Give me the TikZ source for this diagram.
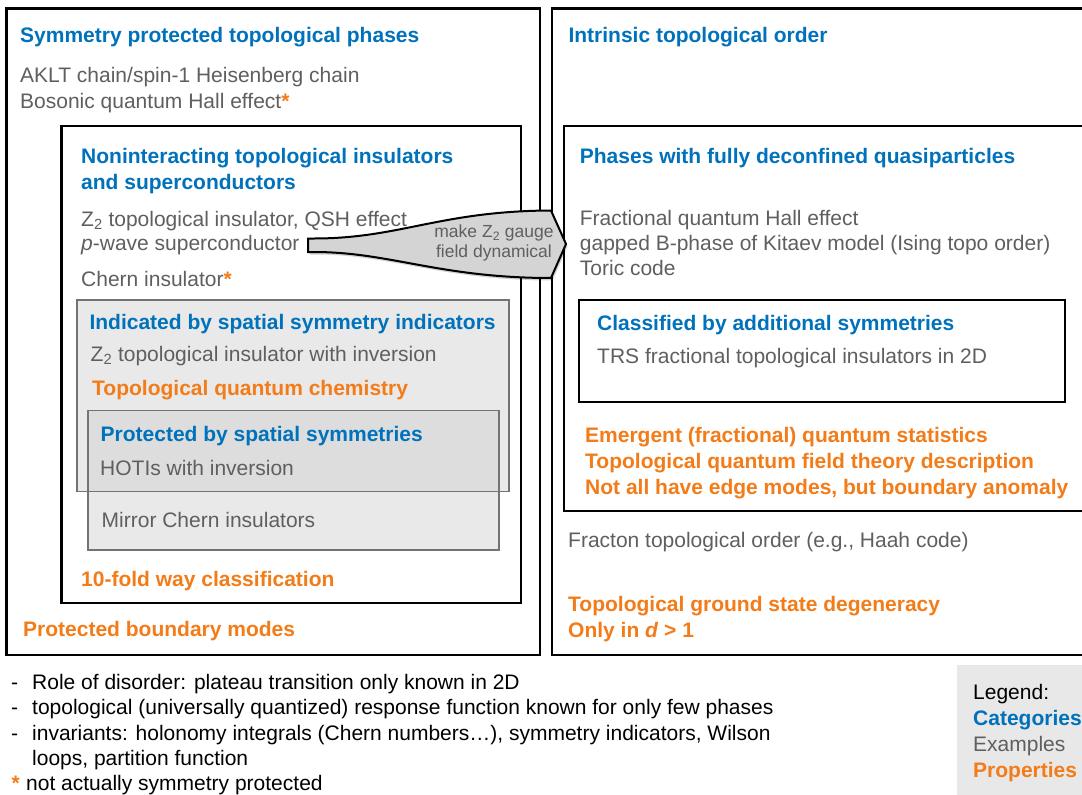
\documentclass[tikz,border=0pt]{standalone}
\usepackage{fontspec}
\setmainfont{Liberation Sans}
\definecolor{cblue}{RGB}{0,114,188}
\definecolor{corange}{RGB}{243,124,24}
\definecolor{cgray}{RGB}{95,95,95}
\definecolor{boxfill}{RGB}{233,233,233}
\definecolor{overfill}{RGB}{221,221,221}
\definecolor{legfill}{RGB}{232,232,232}
\definecolor{arrowfill}{RGB}{212,212,212}
\newcommand{\orast}{{\color{corange}\bfseries*}}
\tikzset{
  cat/.style={anchor=base west, inner sep=0pt, text=cblue, font=\fontsize{21}{26}\selectfont\bfseries},
  ex/.style={anchor=base west, inner sep=0pt, text=cgray, font=\fontsize{21}{26}\selectfont},
  prop/.style={anchor=base west, inner sep=0pt, text=corange, font=\fontsize{21}{26}\selectfont\bfseries},
  note/.style={anchor=base west, inner sep=0pt, text=black, font=\fontsize{21}{25}\selectfont},
  frame/.style={draw=black, line width=2.2pt},
  graybox/.style={draw=black!55, line width=1.8pt},
}
\begin{document}
\begin{tikzpicture}[x=1pt,y=-1pt]
\useasboundingbox (0,0) rectangle (1082,795);
\clip (0,0) rectangle (1082,795);
\fill[white] (0,0) rectangle (1082,795);
% frames
\draw[frame] (6.5,8.5) rectangle (540,655);
\draw[frame] (61.5,126) rectangle (521,603);
\draw[frame] (552,8.5) rectangle (1100,655);
\draw[frame] (564,126) rectangle (1100,511);
\draw[frame] (579,300) rectangle (1065,402);
% gray nested boxes
\fill[boxfill] (77,300) rectangle (509,491.5);
\fill[boxfill] (88,410.5) rectangle (499,550);
\fill[overfill] (88,410.5) rectangle (499,491.5);
\draw[graybox] (77,300) rectangle (509,491.5);
\draw[graybox] (88,410.5) rectangle (499,550);
% legend box
\fill[legfill] (957,665) rectangle (1100,800);

% left texts
\node[cat] (spt) at (20,42.5) {Symmetry protected topological phases};
\node[ex] (aklt) at (20,82) {AKLT chain/spin-1 Heisenberg chain};
\node[ex] (bqh) at (20,108.5) {Bosonic quantum Hall effect\orast};
\node[cat] (nti1) at (81,163.3) {Noninteracting topological insulators};
\node[cat] (nti2) at (81,189.3) {and superconductors};
\node[ex] (z2ti) at (81,226) {Z\textsubscript{2} topological insulator, QSH effect};
\node[ex] (pw) at (81,250.5) {\textit{p}-wave superconductor};
\node[ex] (ci) at (81,286) {Chern insulator\orast};
\node[cat] (ind) at (89.3,329.5) {Indicated by spatial symmetry indicators};
\node[ex] (z2inv) at (90.5,361.7) {Z\textsubscript{2} topological insulator with inversion};
\node[prop] (tqc) at (92,395) {Topological quantum chemistry};
\node[cat] (pss) at (100.5,441.7) {Protected by spatial symmetries};
\node[ex] (hoti) at (100,475) {HOTIs with inversion};
\node[ex] (mci) at (101.5,527.3) {Mirror Chern insulators};
\node[prop] (tfw) at (81,586) {10-fold way classification};
\node[prop] (pbm) at (23,636.7) {Protected boundary modes};

% right texts
\node[cat] (ito) at (568.3,42.7) {Intrinsic topological order};
\node[cat] (pfd) at (579.7,163.3) {Phases with fully deconfined quasiparticles};
\node[ex] (fqh) at (579.7,225) {Fractional quantum Hall effect};
\node[ex] (kit) at (579.7,250.2) {gapped B-phase of Kitaev model (Ising topo order)};
\node[ex] (tor) at (579.7,275.5) {Toric code};
\node[cat] (cas) at (597,330) {Classified by additional symmetries};
\node[ex] (trs) at (597,363.3) {TRS fractional topological insulators in 2D};
\node[prop] (ems) at (585,442.3) {Emergent (fractional) quantum statistics};
\node[prop] (tqft) at (585,468.5) {Topological quantum field theory description};
\node[prop] (nae) at (585,494.7) {Not all have edge modes, but boundary anomaly};
\node[ex] (frac) at (568,547) {Fracton topological order (e.g., Haah code)};
\node[prop] (tgs) at (568,611.5) {Topological ground state degeneracy};
\node[prop] (oid) at (568,637.5) {Only in \textit{d} > 1};

% notes
\node[note] (d1) at (11,689.5) {-};
\node[note] (n1) at (32,689.5) {Role of disorder: plateau transition only known in 2D};
\node[note] (d2) at (11,714.8) {-};
\node[note] (n2) at (32,714.8) {topological (universally quantized) response function known for only few phases};
\node[note] (d3) at (11,740.1) {-};
\node[note] (n3) at (32,740.1) {invariants: holonomy integrals (Chern numbers…), symmetry indicators, Wilson};
\node[note] (n4) at (32,765.4) {loops, partition function};
\node[note] (st) at (11.5,790.7) {\orast};
\node[note] (n5) at (26,790.7) {not actually symmetry protected};

% legend
\node[note] (lg) at (973,699.5) {Legend:};
\node[cat] (lc) at (973,725.5) {Categories};
\node[ex] (le) at (973,751.5) {Examples};
\node[prop] (lp) at (973,777.5) {Properties};

% flared arrow
\fill[black, opacity=0.18, shift={(1.5pt,-2.5pt)}] (308,238.5) -- (314,238.5) .. controls (400,238.5) and (440,211) .. (551,210.5) -- (566,244) -- (551,278) .. controls (440,278) and (390,252) .. (314,252) -- (308,252) -- cycle;
\draw[line width=2pt, fill=arrowfill, line join=miter] (308,238.5) -- (314,238.5) .. controls (400,238.5) and (440,211) .. (551,210.5) -- (566,244) -- (551,278) .. controls (440,278) and (390,252) .. (314,252) -- (308,252) -- cycle;
\node[text=cgray, align=center, inner sep=0pt, font=\fontsize{17.5}{20}\selectfont] (gauge) at (494,243) {make Z\textsubscript{2} gauge\\field dynamical};
\end{tikzpicture}
\end{document}
